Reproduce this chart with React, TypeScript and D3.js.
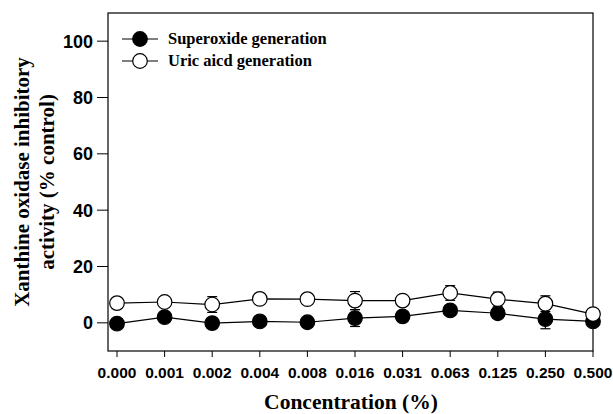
import React from 'react';
import * as d3 from 'd3';

const concentrations = ['0.000', '0.001', '0.002', '0.004', '0.008', '0.016', '0.031', '0.063', '0.125', '0.250', '0.500'];
const superoxide = [-0.3, 2.0, -0.1, 0.5, 0.2, 1.7, 2.3, 4.4, 3.4, 1.3, 0.5];
const superoxideErr = [0.8, 1.5, 0.8, 0.8, 0.8, 3.0, 1.0, 1.5, 1.5, 3.4, 0.8];
const uricAcid = [7.0, 7.4, 6.5, 8.5, 8.4, 7.9, 7.9, 10.6, 8.4, 6.8, 3.1];
const uricAcidErr = [0.8, 1.0, 2.8, 0.8, 0.8, 3.2, 1.0, 2.6, 2.5, 2.8, 0.8];
const yTicks = [0, 20, 40, 60, 80, 100];

const W = 613, H = 414;
const frame = { left: 108, right: 593, top: 13, bottom: 351 };
const serif = 'Liberation Serif, Times New Roman, serif';
const sans = 'Liberation Sans, Arial, sans-serif';

export default function App() {
  const x = d3.scalePoint<string>().domain(concentrations).range([117, 593]);
  const y = d3.scaleLinear().domain([-10, 110]).range([frame.bottom, frame.top]);

  const line = d3.line<number>()
    .x((_, i) => x(concentrations[i])!)
    .y(d => y(d));

  const series = [
    { name: 'Superoxide generation', values: superoxide, err: superoxideErr, fill: '#000' },
    { name: 'Uric aicd generation', values: uricAcid, err: uricAcidErr, fill: '#fff' },
  ];

  const r = 7.3;

  return (
    <svg width={W} height={H} style={{ position: 'absolute', left: 0, top: 0 }}>
      <rect x={0} y={0} width={W} height={H} fill="#fff" />
      {/* frame */}
      <rect x={frame.left} y={frame.top} width={frame.right - frame.left} height={frame.bottom - frame.top}
        fill="none" stroke="#000" strokeWidth={1.2} />

      {/* y ticks */}
      {yTicks.map(t => (
        <g key={t}>
          <line x1={frame.left - 11} x2={frame.left} y1={y(t)} y2={y(t)} stroke="#000" strokeWidth={1} />
          <text x={frame.left - 15} y={y(t)} dy="0.36em" textAnchor="end"
            fontFamily={sans} fontWeight="bold" fontSize={18}>{t}</text>
        </g>
      ))}

      {/* x ticks */}
      {concentrations.map(c => (
        <g key={c}>
          <line x1={x(c)} x2={x(c)} y1={frame.bottom} y2={frame.bottom + 6} stroke="#000" strokeWidth={1} />
          <text x={x(c)} y={377.5} textAnchor="middle"
            fontFamily={sans} fontWeight="bold" fontSize={15.5}>{c}</text>
        </g>
      ))}

      {/* lines */}
      {series.map(s => (
        <path key={s.name + 'l'} d={line(s.values)!} fill="none" stroke="#000" strokeWidth={1.2} />
      ))}

      {/* error bars */}
      {series.map(s => s.values.map((v, i) => {
        const cx = x(concentrations[i])!;
        return (
          <g key={s.name + 'e' + i} stroke="#000" strokeWidth={1.2}>
            <line x1={cx} x2={cx} y1={y(v - s.err[i])} y2={y(v + s.err[i])} />
            <line x1={cx - 5} x2={cx + 5} y1={y(v + s.err[i])} y2={y(v + s.err[i])} />
            <line x1={cx - 5} x2={cx + 5} y1={y(v - s.err[i])} y2={y(v - s.err[i])} />
          </g>
        );
      }))}

      {/* markers */}
      {series.map(s => s.values.map((v, i) => (
        <circle key={s.name + 'c' + i} cx={x(concentrations[i])!} cy={y(v)} r={r}
          fill={s.fill} stroke="#000" strokeWidth={1.2} />
      )))}

      {/* legend */}
      {series.map((s, i) => {
        const ly = 39 + i * 22;
        return (
          <g key={s.name + 'lg'}>
            <line x1={122} x2={158} y1={ly} y2={ly} stroke="#000" strokeWidth={1.2} />
            <circle cx={140} cy={ly} r={r} fill={s.fill} stroke="#000" strokeWidth={1.2} />
            <text x={168} y={ly} dy="0.33em" fontFamily={serif}
              fontWeight="bold" fontSize={16.5}>{s.name}</text>
          </g>
        );
      })}

      {/* axis titles */}
      <text x={351} y={409} textAnchor="middle" fontFamily={serif}
        fontWeight="bold" fontSize={21.5}>Concentration (%)</text>
      <g transform="translate(0,182) rotate(-90)" fontFamily={serif}
        fontWeight="bold" fontSize={21} textAnchor="middle">
        <text x={0} y={29}>Xanthine oxidase inhibitory</text>
        <text x={0} y={54}>activity (% control)</text>
      </g>
    </svg>
  );
}
